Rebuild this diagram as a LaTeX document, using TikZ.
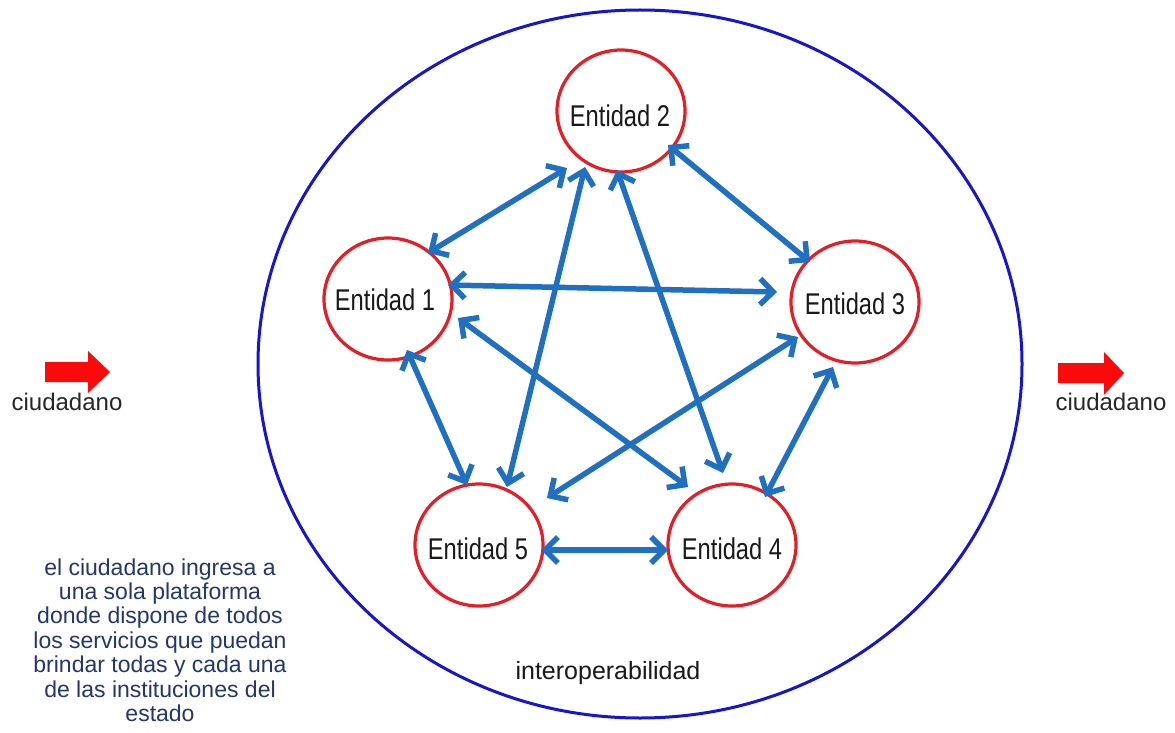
\documentclass[tikz,border=0pt]{standalone}
\usepackage{fontspec}
\usepackage{graphicx}
\setmainfont{Liberation Sans}
\usetikzlibrary{arrows.meta,calc,shapes.geometric}
\definecolor{arrowblue}{RGB}{31,112,193}
\definecolor{entred}{RGB}{228,30,36}
\definecolor{ringblue}{RGB}{22,22,205}
\definecolor{parablue}{RGB}{35,55,110}
\definecolor{cred}{RGB}{250,10,10}
\begin{document}
\begin{tikzpicture}[x=1pt,y=-1pt,
  entity/.style={draw=entred, line width=3.2pt, ellipse, minimum width=128pt, minimum height=122pt, inner sep=0pt},
  entlabel/.style={inner sep=0pt, font=\fontsize{30}{36}\selectfont, text=black!90},
  link/.style={draw=arrowblue, line width=5.5pt,
    {Straight Barb[length=13pt,width=26pt]}-{Straight Barb[length=13pt,width=26pt]}},
  citizen/.style={inner sep=0pt, font=\fontsize{24}{28}\selectfont, text=black!85},
  redarrow/.style={fill=cred, draw=none}
]
\useasboundingbox (0,0) rectangle (1175,733);
\fill[white] (0,0) rectangle (1175,733);

% big ring
\node[draw=ringblue, line width=3pt, ellipse, minimum width=764pt, minimum height=708pt, inner sep=0pt] (ring) at (640,364) {};

% entities
\node[entity] (e1) at (388,299) {};
\node[entity] (e2) at (621,111) {};
\node[entity] (e3) at (855,302) {};
\node[entity] (e4) at (732,545) {};
\node[entity] (e5) at (479,545) {};

\node[entlabel] (t1) at ($(e1)+(-3,1)$) {\scalebox{0.79}[1]{Entidad 1}};
\node[entlabel] (t2) at ($(e2)+(-1,5)$) {\scalebox{0.79}[1]{Entidad 2}};
\node[entlabel] (t3) at ($(e3)+(0,2)$) {\scalebox{0.79}[1]{Entidad 3}};
\node[entlabel] (t4) at ($(e4)+(0,4)$) {\scalebox{0.79}[1]{Entidad 4}};
\node[entlabel] (t5) at ($(e5)+(-1,4)$) {\scalebox{0.79}[1]{Entidad 5}};

% links
\draw[link] ($(e1)+(40,-46)$) -- ($(e2)+(-54,57)$);
\draw[link] ($(e2)+(47,34)$) -- ($(e3)+(-45,-40)$);
\draw[link] ($(e1)+(60,-14)$) -- ($(e3)+(-78,-10)$);
\draw[link] ($(e1)+(70,19)$) -- ($(e4)+(-44,-58)$);
\draw[link] ($(e1)+(19,51)$) -- ($(e5)+(-12,-60)$);
\draw[link] ($(e2)+(-36,56)$) -- ($(e5)+(28,-58)$);
\draw[link] ($(e2)+(-4,59)$) -- ($(e4)+(-9,-72)$);
\draw[link] ($(e3)+(-57,35)$) -- ($(e5)+(68,-47)$);
\draw[link] ($(e3)+(-22,65)$) -- ($(e4)+(33,-48)$);
\draw[link] ($(e5)+(62,5)$) -- ($(e4)+(-64,5)$);

% citizen arrows
\fill[redarrow] (45,362) -- (88,362) -- (88,351) -- (110,372) -- (88,393) -- (88,382) -- (45,382) -- cycle;
\fill[redarrow] (1058,363) -- (1104,363) -- (1104,352) -- (1124,373) -- (1104,395) -- (1104,383) -- (1058,383) -- cycle;
\node[citizen] (cl) at (67,402) {ciudadano};
\node[citizen] (cr) at (1111,402) {ciudadano};

% texts
\node[inner sep=0pt, align=center, text=parablue, font=\fontsize{23}{24.4}\selectfont] (para) at (160,640)
 {el ciudadano ingresa a\\una sola plataforma\\donde dispone de todos\\los servicios que puedan\\brindar todas y cada una\\de las instituciones del\\estado};
\node[inner sep=0pt, font=\fontsize{25}{30}\selectfont, text=black!90] (inter) at (608,673) {interoperabilidad};
\end{tikzpicture}
\end{document}
